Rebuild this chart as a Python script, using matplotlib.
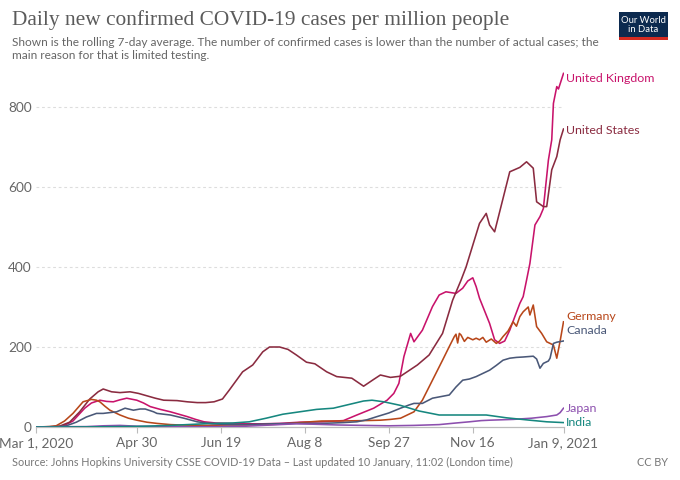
import matplotlib
matplotlib.use("Agg")
import matplotlib.pyplot as plt
import matplotlib.dates as mdates
import numpy as np
import pandas as pd
from matplotlib.patches import Rectangle

START = pd.Timestamp("2020-03-01")
SANS = ["Lato", "DejaVu Sans"]

# ---- data: (days since Mar 1 2020, cases per million, 7-day avg) ----
us_days = [0, 10, 14, 20, 26, 32, 37, 40, 45, 50, 56, 61, 66, 71, 76, 84, 90, 96, 101, 106, 111, 115,
           123, 129, 135, 139, 145, 150, 155, 161, 166, 173, 179, 188, 195, 201, 205, 211, 217, 227,
           234, 242, 248, 253, 256, 264, 268, 270, 273, 276, 279, 282, 288, 292, 296, 298, 302, 304,
           307, 310, 312, 314]
us_vals = [0, 1, 2, 12, 38, 70, 88, 95, 88, 86, 88, 84, 78, 72, 67, 66, 63, 61, 61, 63, 70, 92,
           138, 155, 188, 200, 200, 194, 180, 162, 158, 138, 126, 122, 102, 119, 130, 124, 127, 155,
           180, 234, 317, 367, 400, 509, 534, 505, 488, 538, 588, 638, 649, 663, 647, 563, 551, 551,
           643, 676, 718, 745]

uk_days = [0, 10, 16, 22, 29, 33, 38, 42, 46, 50, 54, 60, 64, 68, 74, 80, 85, 90, 95, 100, 107, 115,
           125, 135, 145, 157, 170, 183, 191, 201, 209, 213, 216, 219, 223, 225, 230, 236, 240, 244,
           250, 254, 257, 260, 262, 264, 270, 273, 276, 279, 282, 288, 290, 292, 294, 297, 300, 302,
           305, 307, 308, 310, 311, 314]
uk_vals = [0, 0.5, 2, 15, 47, 60, 67, 64, 63, 68, 72, 67, 60, 51, 44, 38, 32, 26, 19, 13, 10, 9,
           8, 8, 9, 12, 13, 16, 30, 47, 67, 84, 109, 176, 234, 213, 242, 301, 330, 338,
           334, 347, 365, 373, 351, 322, 259, 218, 209, 215, 242, 309, 326, 367, 409, 505, 526, 546,
           667, 718, 809, 851, 845, 884]

de_days = [0, 8, 12, 17, 22, 28, 33, 36, 38, 41, 44, 50, 55, 60, 66, 72, 80, 86, 100, 115, 130, 145,
           160, 170, 181, 195, 205, 211, 217, 225, 230, 236, 242, 246, 249, 250, 251, 252, 253, 255,
           257, 260, 262, 264, 266, 268, 271, 274, 276, 278, 281, 284, 286, 288, 290, 293, 294, 296,
           298, 301, 304, 308, 310, 312, 314]
de_vals = [0, 1, 3, 15, 34, 63, 69, 67, 63, 52, 42, 30, 22, 17, 12, 9, 6, 5, 4, 5, 5, 7,
           12, 15, 15, 16, 17, 19, 22, 38, 67, 117, 167, 201, 226, 232, 210, 234, 230, 214,
           224, 218, 222, 218, 224, 212, 220, 209, 215, 226, 240, 263, 252, 276, 288, 300, 280, 305,
           251, 234, 213, 205, 172, 215, 263]

ca_days = [0, 14, 18, 24, 30, 36, 40, 44, 48, 53, 58, 62, 65, 70, 72, 80, 88, 96, 105, 115, 125, 140,
           155, 170, 183, 191, 197, 203, 210, 217, 222, 225, 230, 236, 241, 246, 250, 254, 258, 262,
           266, 270, 274, 278, 282, 286, 290, 296, 298, 300, 302, 305, 306, 308, 310, 314]
ca_vals = [0, 1, 3, 12, 25, 34, 34, 36, 38, 47, 42, 45, 45, 38, 34, 30, 22, 13, 8, 6, 6, 8,
           9, 9, 11, 13, 18, 26, 35, 47, 55, 59, 59, 72, 76, 80, 100, 117, 120, 126,
           134, 142, 154, 167, 172, 174, 175, 177, 170, 147, 159, 165, 172, 209, 212, 215]

jp_days = [0, 30, 40, 50, 60, 80, 110, 125, 140, 155, 165, 180, 195, 210, 225, 240, 250, 258, 265,
           270, 284, 295, 304, 310, 312, 314]
jp_vals = [0.3, 1, 3, 4, 2, 0.5, 1, 2, 5, 8, 7, 5, 4, 3, 4, 6, 10, 13, 16,
           17, 19, 22, 26, 30, 36, 47]

in_days = [0, 30, 60, 80, 95, 105, 117, 127, 137, 147, 157, 167, 177, 187, 195, 200, 207, 217, 228,
           240, 254, 268, 280, 294, 304, 314]
in_vals = [0, 0.2, 1.5, 4, 7, 9, 10, 13, 22, 32, 38, 44, 47, 57, 65, 67, 63, 54, 40,
           30, 30, 30, 23, 17, 13, 11]

countries = ["United Kingdom", "United States", "Germany", "Canada", "Japan", "India"]
colors = ["#c8136b", "#8a2b40", "#b8471a", "#4a5878", "#8c4fae", "#16877f"]
label_y = [872, 740, 275, 242, 45, 10]   # label anchor values (nudged to avoid overlap)

tick_days = [0, 60, 110, 160, 210, 260, 314]
tick_labels = ["Mar 1, 2020", "Apr 30", "Jun 19", "Aug 8", "Sep 27", "Nov 16", "Jan 9, 2021"]
y_ticks = [0, 200, 400, 600, 800]

series = [(uk_days, uk_vals), (us_days, us_vals), (de_days, de_vals),
          (ca_days, ca_vals), (jp_days, jp_vals), (in_days, in_vals)]

def to_dates(days):
    return [START + pd.Timedelta(days=d) for d in days]

fig = plt.figure(figsize=(6.8, 4.8), dpi=100)
renderer = fig.canvas.get_renderer()

def fit_width(txt, target_px):
    w = txt.get_window_extent(renderer=renderer).width
    if w > 0:
        txt.set_fontsize(txt.get_fontsize() * target_px / w)

ax = fig.add_axes([36 / 680, 53 / 480, (563.5 - 36) / 680, 360 / 480])

draw_order = [5, 4, 3, 2, 1, 0]
for i in draw_order:
    d, v = series[i]
    ax.plot(to_dates(d), v, color=colors[i], lw=1.15, solid_joinstyle="round", zorder=3 + i * 0.1)

end = START + pd.Timedelta(days=314)
for i, name in enumerate(countries):
    ax.annotate(name, xy=(end, label_y[i]), xytext=(2, 0), textcoords="offset points",
                color=colors[i], fontsize=8.9, va="center", ha="left",
                family=SANS, annotation_clip=False)

ax.set_xlim(START, end)
ax.set_ylim(0, 900)
for s in ["top", "right", "left"]:
    ax.spines[s].set_visible(False)
ax.spines["bottom"].set_color("#bbbbbb")
ax.spines["bottom"].set_linewidth(0.9)

ax.set_yticks(y_ticks)
ax.set_yticklabels([str(t) for t in y_ticks])
ax.tick_params(axis="y", length=0, pad=3, labelsize=9.8, labelcolor="#666666")
ax.set_xticks(to_dates(tick_days))
ax.set_xticklabels(tick_labels)
ax.tick_params(axis="x", length=4, width=0.8, color="#bbbbbb", pad=3, labelsize=9.8, labelcolor="#666666")
for lab in ax.get_xticklabels() + ax.get_yticklabels():
    lab.set_family(SANS)

for t in y_ticks[1:]:
    ax.axhline(t, color="#dddddd", lw=0.8, ls=(0, (2.5, 2.5)), zorder=1)

# Titles
title = fig.text(12 / 680, 1 - 20 / 480, "Daily new confirmed COVID-19 cases per million people",
                 family=["Liberation Serif", "DejaVu Serif"], fontsize=15.5, color="#5b5b5b",
                 va="center", ha="left")
sub1 = fig.text(12 / 680, 1 - 42 / 480,
                "Shown is the rolling 7-day average. The number of confirmed cases is lower than the number of actual cases; the",
                family=SANS, fontsize=8.6, color="#666666", va="center", ha="left")
sub2 = fig.text(12 / 680, 1 - 55.5 / 480, "main reason for that is limited testing.",
                family=SANS, fontsize=8.6, color="#666666", va="center", ha="left")
foot = fig.text(12 / 680, 1 - 462 / 480,
                "Source: Johns Hopkins University CSSE COVID-19 Data \u2013 Last updated 10 January, 11:02 (London time)",
                family=SANS, fontsize=8.4, color="#777777", va="center", ha="left")
cc = fig.text(668 / 680, 1 - 462 / 480, "CC BY", family=SANS, fontsize=8.4,
              color="#777777", va="center", ha="right")

fit_width(title, 496)
fit_width(sub1, 582)
sub2.set_fontsize(sub1.get_fontsize())
fit_width(foot, 502)
cc.set_fontsize(foot.get_fontsize())

# logo
fig.patches.append(Rectangle((619 / 680, 1 - 39 / 480), 49 / 680, 27 / 480, transform=fig.transFigure,
                             facecolor="#0c2a4f", edgecolor="none"))
fig.patches.append(Rectangle((619 / 680, 1 - 40 / 480), 49 / 680, 2.5 / 480, transform=fig.transFigure,
                             facecolor="#d42b21", edgecolor="none"))
fig.text(643.5 / 680, 1 - 25 / 480, "Our World\nin Data", family=SANS, fontsize=6.8,
         color="white", ha="center", va="center", linespacing=1.0)

fig.savefig("out.png", dpi=100, facecolor="white")
